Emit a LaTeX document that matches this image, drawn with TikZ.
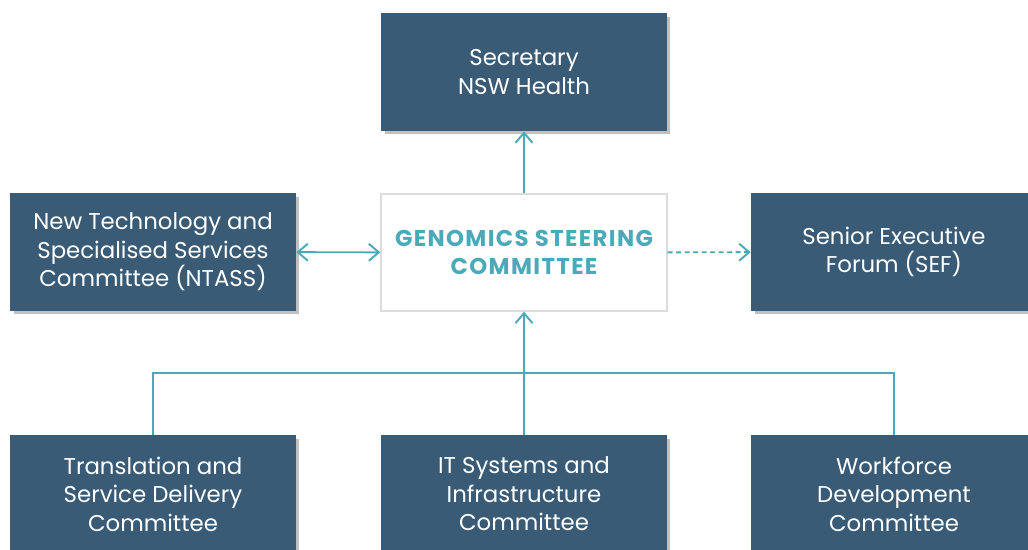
\documentclass[tikz,border=0pt]{standalone}
\usepackage{fontspec}
\setmainfont{Poppins}
\usetikzlibrary{arrows.meta,shadows}
\definecolor{boxblue}{HTML}{3A5B76}
\definecolor{linkteal}{HTML}{4BAAB9}
\definecolor{edgegray}{HTML}{DCDCDC}
\begin{document}
\begin{tikzpicture}[x=0.02cm,y=-0.02cm,
    unit/.style={fill=boxblue,text=white,minimum width=5.72cm,minimum height=2.36cm,inner sep=0pt,align=center,
      font=\fontsize{13}{16.2}\selectfont,
      drop shadow={shadow xshift=0.07cm,shadow yshift=-0.07cm,opacity=0.35,fill=black!70}},
    chair/.style={draw=edgegray,line width=0.8pt,fill=white,text=linkteal,minimum width=5.72cm,minimum height=2.34cm,inner sep=0pt,align=center,
      font=\fontsize{13}{16.2}\selectfont\bfseries\addfontfeatures{LetterSpace=6}},
    link/.style={draw=linkteal,line width=1.1pt},
    tip/.style={-{Straight Barb[length=0.2cm,width=0.34cm,line width=1.1pt]}}]
    \clip (0,0) rectangle (1028,550);
    \fill[white] (0,0) rectangle (1028,550);

    \node[unit] (sec) at (524,72) {Secretary\\NSW Health};
    \node[chair] (gsc) at (524,252.5) {GENOMICS STEERING\\COMMITTEE};
    \node[unit] (ntass) at (153,252) {New Technology and\\Specialised Services\\Committee (NTASS)};
    \node[unit] (sef) at (894,252) {Senior Executive\\Forum (SEF)};

    \node[unit] (transl) at (153,494) {Translation and\\Service Delivery\\Committee};
    \node[unit] (itsys) at (524,494) {IT Systems and\\Infrastructure\\Committee};
    \node[unit] (workf) at (894,494) {Workforce\\Development\\Committee};

    \coordinate (bus) at (524,373);

    \draw[link,tip] (gsc) -- (sec);
    \draw[link,{Straight Barb[length=0.2cm,width=0.34cm,line width=1.1pt]}-{Straight Barb[length=0.2cm,width=0.34cm,line width=1.1pt]}] (ntass) -- (gsc);
    \draw[link,tip,dash pattern=on 0.1cm off 0.07cm] (gsc) -- (sef);
    \draw[link] (transl.north) |- (bus) -| (workf.north);
    \draw[link,tip] (itsys) -- (gsc);
\end{tikzpicture}
\end{document}
